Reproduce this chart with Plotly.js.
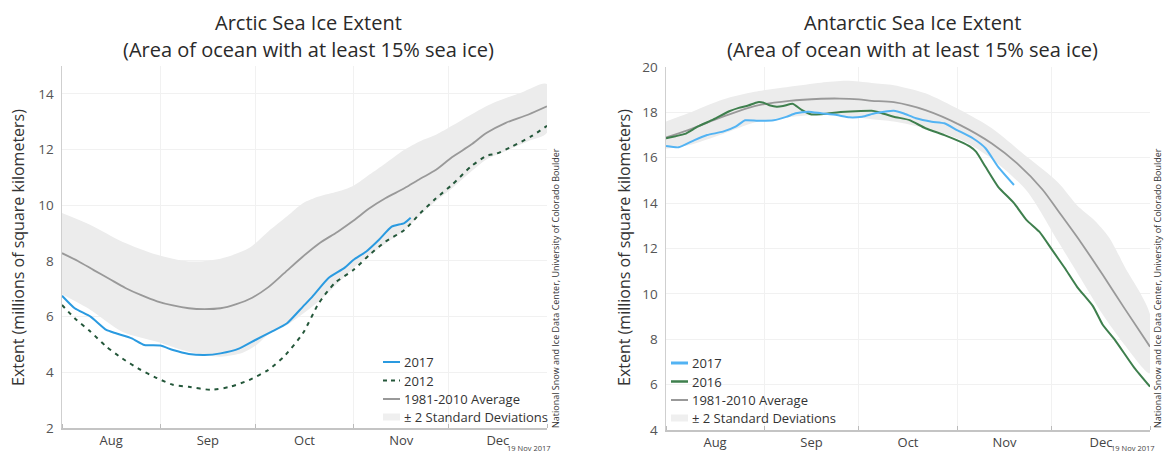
<!DOCTYPE html>
<html>
<head>
<meta charset="utf-8">
<script src="https://cdn.plot.ly/plotly-3.0.1.min.js"></script>
<style>html,body{margin:0;padding:0;background:#fff;}#chart{width:1165px;height:454px;}</style>
</head>
<body>
<div id="chart"></div>
<script>
// ---- Data (day offsets from 1 Aug 2017, values in millions of km²) ----
// Arctic
const arcAvgDays = [0,5,10,15,20,25,30,35,40,45,50,55,60,65,70,76,81,87,92,97,102,108,113,118,123,129,134,140,147,153];
const arcAvg = [8.28,8.0,7.67,7.35,7.03,6.77,6.55,6.4,6.3,6.27,6.3,6.45,6.68,7.05,7.55,8.16,8.62,9.05,9.45,9.89,10.25,10.61,10.95,11.27,11.72,12.17,12.6,12.96,13.25,13.55];
const arcUpperDays = [0,9,19,30,40,50,59,65,71,76,81,87,92,97,102,108,113,118,123,129,136,145,153];
const arcUpper = [9.72,9.29,8.69,8.22,7.98,8.08,8.46,9.05,9.6,10.07,10.31,10.49,10.7,11.1,11.5,11.99,12.3,12.53,12.85,13.25,13.67,14.05,14.35];
const arcLowerDays = [0,9,19,30,40,50,57,61,65,71,76,81,87,92,97,102,108,113,118,123,129,134,140,147,153];
const arcLower = [6.8,6.24,5.46,5.1,4.74,4.56,4.70,4.95,5.35,5.7,6.1,6.55,7.2,7.75,8.2,8.62,9.1,9.65,10.15,10.6,11.2,11.65,11.95,12.3,12.6];
const arc2017Days = [0,4,9,14,17,22,26,31,35,40,45,50,56,61,66,71,76,79,84,89,92,96,100,104,108,110];
const arc2017 = [6.75,6.30,6.0,5.52,5.40,5.22,4.98,4.96,4.80,4.66,4.62,4.68,4.86,5.16,5.45,5.76,6.36,6.72,7.38,7.74,8.04,8.34,8.76,9.23,9.36,9.55];
const arc2012Days = [0,4,9,14,19,24,30,35,40,47,53,59,65,70,76,81,86,92,97,102,108,113,118,123,129,134,137,142,148,153];
const arc2012 = [6.42,5.94,5.46,4.92,4.50,4.14,3.79,3.55,3.48,3.37,3.48,3.72,4.08,4.56,5.40,6.48,7.20,7.68,8.22,8.69,9.11,9.71,10.25,10.73,11.39,11.78,11.85,12.11,12.47,12.85];
// Antarctic
const antAvgDays = [0,7,18,28,39,49,55,61,65,72,82,93,103,111,119,124,131,138,145,153];
const antAvg = [16.9,17.22,17.81,18.28,18.51,18.60,18.61,18.57,18.51,18.45,18.10,17.44,16.63,15.75,14.6,13.65,12.3,10.85,9.35,7.67];
const antUpperDays = [0,7,18,28,39,49,57,65,72,82,93,103,114,124,130,135,140,145,153];
const antUpper = [17.6,17.96,18.57,18.91,19.13,19.31,19.39,19.3,19.2,18.84,18.1,17.3,16.05,14.9,13.9,13.3,12.5,11.2,9.1];
const antLowerDays = [0,7,18,28,39,49,57,65,72,82,93,103,114,124,131,138,145,153];
const antLower = [16.4,16.55,17.05,17.55,17.8,17.9,17.85,17.7,17.6,17.3,16.8,15.95,14.55,12.3,10.7,9.1,7.75,6.5];
const ant2016Days = [0,3,6,10,15,20,23,26,29,31,33,35,37,40,41,43,46,49,54,60,65,67,72,77,82,88,93,96,98,101,105,110,114,118,122,126,130,135,138,142,148,153];
const ant2016 = [16.86,16.95,17.05,17.37,17.69,18.05,18.2,18.3,18.45,18.42,18.3,18.25,18.28,18.38,18.3,18.1,17.91,17.92,18.0,18.05,18.07,18.02,17.81,17.66,17.30,17.0,16.71,16.5,16.27,15.6,14.72,14.0,13.25,12.74,11.95,11.15,10.3,9.45,8.65,7.95,6.75,5.91];
const ant2017Days = [0,4,9,13,18,22,25,29,34,38,41,45,49,54,58,62,66,70,72,75,79,84,88,92,97,101,105,110];
const ant2017 = [16.52,16.46,16.78,17.0,17.15,17.37,17.65,17.63,17.65,17.8,17.96,18.03,17.96,17.88,17.78,17.81,17.96,18.05,18.07,17.96,17.74,17.59,17.52,17.22,16.86,16.42,15.6,14.8];

const legendLeft = ['2017','2012','1981-2010 Average','± 2 Standard Deviations'];
const legendRight = ['2017','2016','1981-2010 Average','± 2 Standard Deviations'];
const arcYTicks = [2,4,6,8,10,12,14];
const antYTicks = [4,6,8,10,12,14,16,18,20];

// ---- helpers ----
const base = Date.UTC(2017,7,1);
function toDates(days){ return days.map(d => new Date(base + d*86400000).toISOString().slice(0,10)); }
function band(ud, u, ld, l){
  return { x: toDates(ud).concat(toDates(ld).slice().reverse()), y: u.concat(l.slice().reverse()) };
}
const W = 1165, H = 454;
const px = x => x / W, py = y => 1 - y / H;

const FONT = 'Open Sans, Noto Sans, sans-serif';
const C = { band:'#ececec', avg:'#999999', b17:'#2a9ae0', b17r:'#52b3f3', g12:'#24573a', g16:'#3e7f4d' };

const aB = band(arcUpperDays, arcUpper, arcLowerDays, arcLower);
const nB = band(antUpperDays, antUpper, antLowerDays, antLower);

const traces = [
  {x:aB.x, y:aB.y, fill:'toself', fillcolor:C.band, line:{width:0, shape:'spline', smoothing:0.8}, mode:'lines', xaxis:'x', yaxis:'y', hoverinfo:'skip'},
  {x:toDates(arcAvgDays), y:arcAvg, mode:'lines', line:{color:C.avg, width:1.8, shape:'spline', smoothing:0.8}, xaxis:'x', yaxis:'y'},
  {x:toDates(arc2012Days), y:arc2012, mode:'lines', line:{color:C.g12, width:2, dash:'4px,5px', shape:'spline', smoothing:0.6}, xaxis:'x', yaxis:'y'},
  {x:toDates(arc2017Days), y:arc2017, mode:'lines', line:{color:C.b17, width:2, shape:'spline', smoothing:0.5}, xaxis:'x', yaxis:'y'},
  {x:nB.x, y:nB.y, fill:'toself', fillcolor:C.band, line:{width:0, shape:'spline', smoothing:0.8}, mode:'lines', xaxis:'x2', yaxis:'y2', hoverinfo:'skip'},
  {x:toDates(antAvgDays), y:antAvg, mode:'lines', line:{color:C.avg, width:1.8, shape:'spline', smoothing:0.8}, xaxis:'x2', yaxis:'y2'},
  {x:toDates(ant2016Days), y:ant2016, mode:'lines', line:{color:C.g16, width:2, shape:'spline', smoothing:0.5}, xaxis:'x2', yaxis:'y2'},
  {x:toDates(ant2017Days), y:ant2017, mode:'lines', line:{color:C.b17r, width:2, shape:'spline', smoothing:0.5}, xaxis:'x2', yaxis:'y2'}
];

function xax(l, r){
  return {type:'date', domain:[px(l), px(r)], range:['2017-08-01','2018-01-01'], dtick:'M1', tick0:'2017-08-01',
    ticklabelmode:'period', tickformat:'%b', ticks:'inside', ticklen:4, tickcolor:'#bbbbbb',
    showgrid:true, gridcolor:'#f1f1f1', gridwidth:1, showline:true, linecolor:'#c4c4c4', linewidth:1.5,
    tickfont:{family:FONT, size:13, color:'#444'}, zeroline:false, fixedrange:true};
}
function yax(t, b, range, vals, anchor){
  return {domain:[py(b), py(t)], range:range, tickvals:vals, ticktext:vals.map(String), ticks:'',
    showgrid:true, gridcolor:'#f1f1f1', showline:true, linecolor:'#cfcfcf', linewidth:1.5, zeroline:false,
    tickfont:{family:FONT, size:13.5, color:'#555'}, ticklabelstandoff:4, anchor:anchor, fixedrange:true};
}

const ann = [];
function txt(x, y, text, size, opts){
  ann.push(Object.assign({xref:'paper', yref:'paper', x:px(x), y:py(y), text:text, showarrow:false,
    font:{family:FONT, size:size, color:'#333'}, xanchor:'center', yanchor:'middle'}, opts||{}));
}
txt(308, 23, 'Arctic Sea Ice Extent', 20, {font:{family:FONT, size:20, color:'#2a2a2a'}});
txt(308, 49, '(Area of ocean with at least 15% sea ice)', 20, {font:{family:FONT, size:20, color:'#2a2a2a'}});
txt(912, 23, 'Antarctic Sea Ice Extent', 20, {font:{family:FONT, size:20, color:'#2a2a2a'}});
txt(912, 49, '(Area of ocean with at least 15% sea ice)', 20, {font:{family:FONT, size:20, color:'#2a2a2a'}});
txt(18, 248, 'Extent (millions of square kilometers)', 16, {textangle:-90});
txt(624, 248, 'Extent (millions of square kilometers)', 16, {textangle:-90});
txt(555, 430, 'National Snow and Ice Data Center, University of Colorado Boulder', 9, {textangle:-90, yanchor:'bottom', font:{family:FONT, size:9, color:'#333'}});
txt(1157, 430, 'National Snow and Ice Data Center, University of Colorado Boulder', 9, {textangle:-90, yanchor:'bottom', font:{family:FONT, size:9, color:'#333'}});
txt(553, 447.5, '19 Nov 2017', 7.5, {xanchor:'right', font:{family:FONT, size:7.5, color:'#444'}});
txt(1157, 447.5, '19 Nov 2017', 7.5, {xanchor:'right', font:{family:FONT, size:7.5, color:'#444'}});

const shapes = [];
function legend(x0, x1, ys, labels, styles){
  labels.forEach((lab, i) => {
    txt(x1 + 2, ys[i], lab, 13, {xanchor:'left', font:{family:FONT, size:13, color:'#333'}});
    shapes.push({type:'line', xref:'paper', yref:'paper', x0:px(x0), x1:px(x1), y0:py(ys[i]), y1:py(ys[i]), line:styles[i]});
  });
}
legend(383, 400, [362, 380.5, 399, 417], legendLeft,
  [{color:C.b17, width:2}, {color:C.g12, width:2, dash:'4px,4px'}, {color:C.avg, width:2}, {color:'#efefef', width:7}]);
legend(671, 688, [363, 381.5, 400, 418], legendRight,
  [{color:C.b17r, width:3}, {color:C.g16, width:2.5}, {color:C.avg, width:2}, {color:'#efefef', width:7}]);

const layout = {
  width:W, height:H, margin:{l:0, r:0, t:0, b:0}, paper_bgcolor:'#fff', plot_bgcolor:'#fff',
  showlegend:false, hovermode:false,
  xaxis: xax(62, 547), yaxis: yax(66, 428, [2,15], arcYTicks, 'x'),
  xaxis2: xax(666, 1150), yaxis2: yax(67, 430, [4,20], antYTicks, 'x2'),
  annotations: ann, shapes: shapes, font:{family:FONT}
};
layout.xaxis.anchor = 'y';
layout.xaxis2.anchor = 'y2';
Plotly.newPlot('chart', traces, layout, {staticPlot:true, displayModeBar:false});
</script>
</body>
</html>
